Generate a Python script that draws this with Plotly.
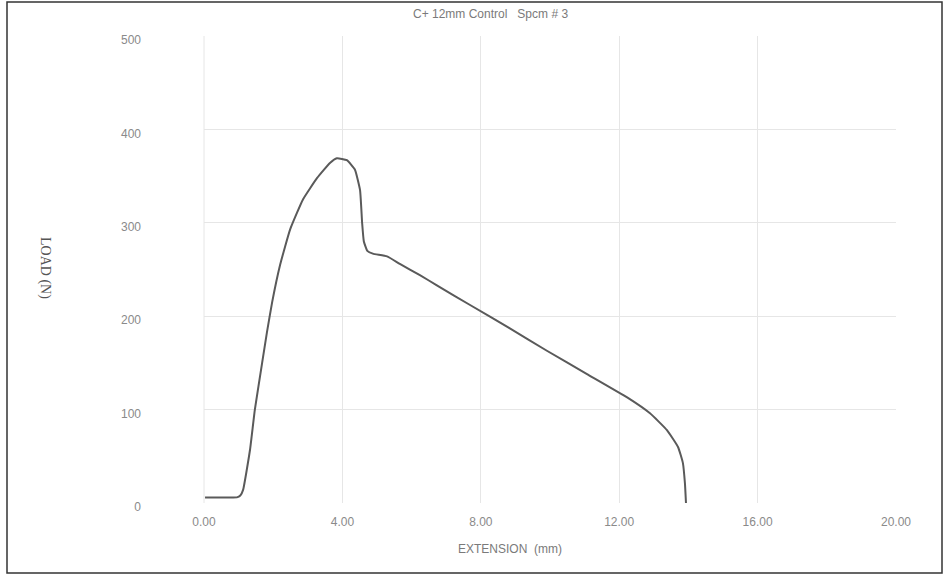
import plotly.graph_objects as go

# Data (extension in mm, load in N)
extension_mm = [0.03, 0.60, 0.95, 1.05, 1.13, 1.33, 1.47, 1.68, 1.82, 1.97, 2.20, 2.49,
                2.86, 3.27, 3.64, 3.84, 4.13, 4.36, 4.51, 4.57, 4.62, 4.72, 4.88, 5.29,
                5.66, 6.24, 6.73, 7.69, 8.84, 9.91, 11.07, 12.23, 12.89, 13.38, 13.70,
                13.84, 13.90, 13.93]
load_n = [6, 6, 6, 8, 14, 57, 100, 150, 183, 215, 255, 293,
          325, 348, 364, 369, 367, 357, 335, 300, 280, 270, 267, 264,
          256, 244, 233, 212, 187, 163, 138, 113, 96, 78, 60,
          43, 21, 0]

x_ticks = [0, 4, 8, 12, 16, 20]
y_ticks = [0, 100, 200, 300, 400, 500]

title_text = "C+ 12mm Control   Spcm # 3"
x_title = "EXTENSION  (mm)"
y_title = "LOAD (N)"

W, H = 945, 577
L, R, T, B = 204, 49, 36, 74
pw, ph = W - L - R, H - T - B

def px(xp):
    return (xp - L) / pw

def py(yp):
    return (H - B - yp) / ph

fig = go.Figure()
fig.add_trace(go.Scatter(
    x=extension_mm, y=load_n, mode="lines",
    line=dict(color="#5a5a5a", width=2, shape="spline", smoothing=0.4),
    hoverinfo="skip", showlegend=False,
))

grid = "#e6e6e6"
fig.update_layout(
    width=W, height=H,
    margin=dict(l=L, r=R, t=T, b=B, autoexpand=False),
    paper_bgcolor="white", plot_bgcolor="white",
    font=dict(family="Liberation Sans, Arial, sans-serif", size=12, color="#8a8a8a"),
    xaxis=dict(range=[0, 20], tickvals=x_ticks, tickformat=".2f",
               showgrid=True, gridcolor=grid, gridwidth=1,
               zeroline=False, showline=False, ticks="", ticklabelstandoff=10,
               fixedrange=True),
    yaxis=dict(range=[0, 500], tickvals=y_ticks,
               showgrid=True, gridcolor=grid, gridwidth=1,
               zeroline=False, showline=False, ticks="", ticklabelstandoff=62,
               ticklabelshift=4, fixedrange=True),
    showlegend=False,
)

# left frame line of the plot area (faint)
fig.add_shape(type="line", xref="paper", yref="paper", x0=0, x1=0, y0=0, y1=1,
              line=dict(color=grid, width=1))

fig.add_annotation(text=title_text, xref="paper", yref="paper",
                   x=px(490), y=py(14), xanchor="center", yanchor="middle",
                   showarrow=False, font=dict(size=12, color="#7a7a7a"))
fig.add_annotation(text=x_title, xref="paper", yref="paper",
                   x=px(510), y=py(549), xanchor="center", yanchor="middle",
                   showarrow=False, font=dict(size=12, color="#7a7a7a"))
fig.add_annotation(text=y_title, xref="paper", yref="paper",
                   x=px(45), y=py(268), xanchor="center", yanchor="middle",
                   showarrow=False, textangle=90,
                   font=dict(family="Liberation Serif, Times New Roman, serif",
                             size=14, color="#555555"))

# outer border of the scanned figure
fig.add_shape(type="rect", xref="paper", yref="paper",
              x0=px(7), x1=px(942), y0=py(573), y1=py(2),
              line=dict(color="#333333", width=1.5), layer="above")

fig.write_html("out.html",
               config={"displayModeBar": False, "staticPlot": True},
               post_script="document.body.style.margin='0';document.body.style.overflow='hidden';")
